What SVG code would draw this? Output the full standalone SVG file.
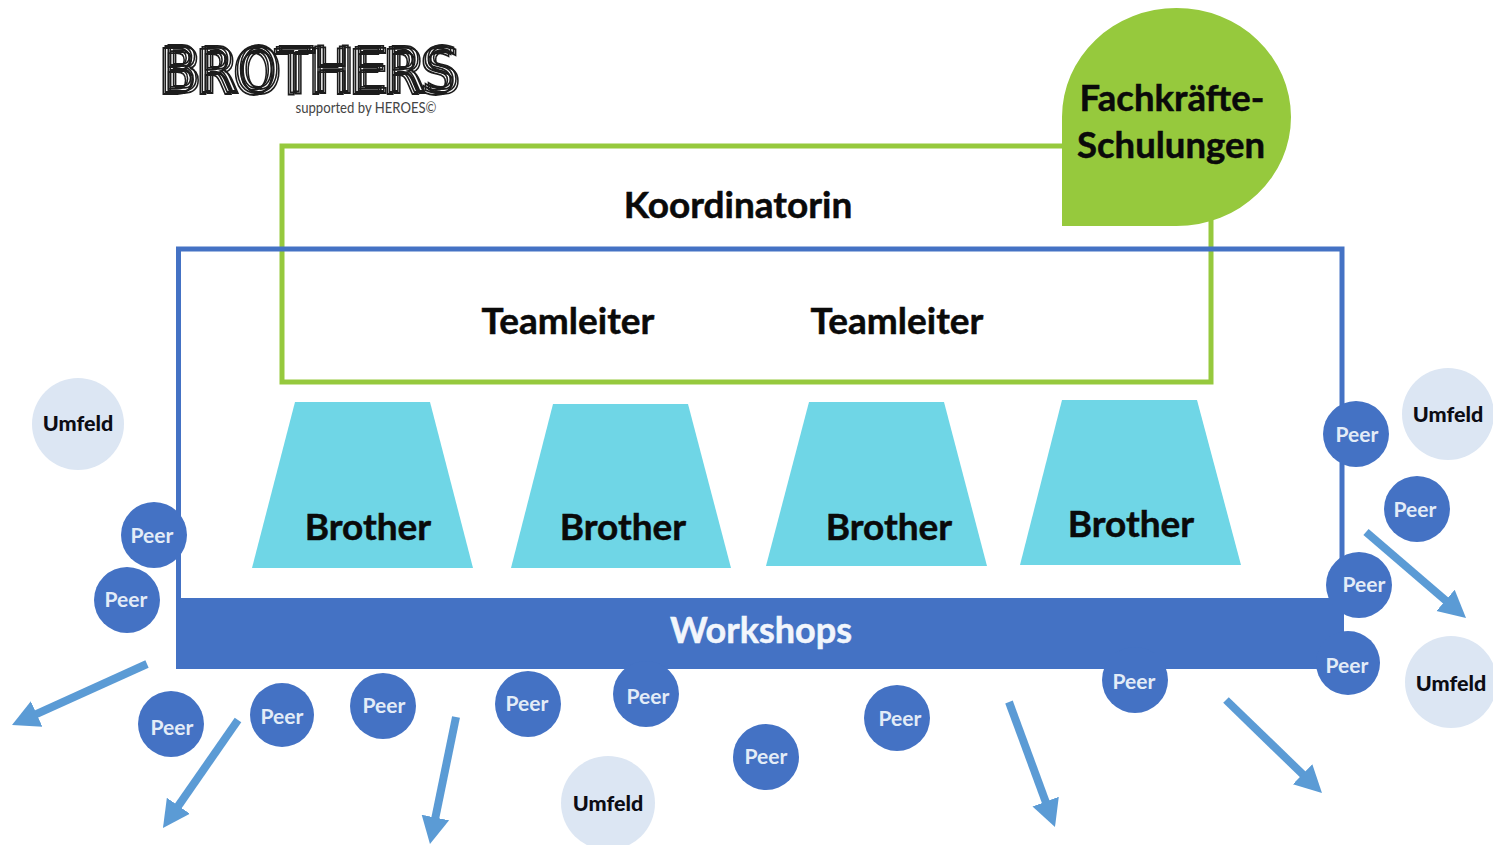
<svg xmlns="http://www.w3.org/2000/svg" width="1493" height="845" viewBox="0 0 1493 845">
<style>
text{font-family:Lato,"Open Sans","Liberation Sans",sans-serif;text-anchor:middle}
.lbl{font-weight:700;font-size:37px;fill:#0a0a0a;stroke:#0a0a0a;stroke-width:.5}
.trap{fill:#6fd6e6}
.peer{fill:#4472c4}
.ptxt{font-size:21px;font-weight:700;fill:#e3ecf7}
.umf{fill:#dce6f3}
.utxt{font-size:21.5px;font-weight:900;fill:#0c0c14}
.frame{fill:none;stroke-width:5}
.arrow{stroke:#5b9bd5;stroke-width:8;fill:none;marker-end:url(#head)}
</style>
<defs>
<marker id="head" markerUnits="userSpaceOnUse" markerWidth="30" markerHeight="34" refX="1" refY="17" orient="auto"><path d="M0 3L27 17L0 31Z" fill="#5b9bd5"/></marker>
<filter id="scratch" x="-5%" y="-20%" width="110%" height="140%">
<feOffset in="SourceGraphic" dx="3" dy="-1.500" result="a"/>
<feOffset in="SourceGraphic" dx="-2" dy="1.500" result="b"/>
<feOffset in="SourceGraphic" dx="5" dy="1" result="c"/>
<feMerge result="m"><feMergeNode in="a"/><feMergeNode in="b"/><feMergeNode in="c"/><feMergeNode in="SourceGraphic"/></feMerge>
<feGaussianBlur in="m" stdDeviation="0.5"/>
</filter>
</defs>
<rect width="1493" height="845" fill="#fff"/>

<g id="logo">
<text x="308" y="92" font-size="62" textLength="296" lengthAdjust="spacingAndGlyphs" style="font-family:'DejaVu Sans',sans-serif;font-weight:400" fill="none" stroke="#1a1a1a" stroke-width="1.800" filter="url(#scratch)">BROTHERS</text>
<text x="366" y="113" font-size="15" textLength="141" lengthAdjust="spacingAndGlyphs" fill="#444">supported by HEROES©</text>
</g>

<g id="frame-green"><rect class="frame" x="282" y="146" width="929" height="236" stroke="#96c93d"/></g>
<g id="frame-blue"><rect class="frame" x="178.500" y="249" width="1163.500" height="352" stroke="#4472c4"/></g>

<g id="schulungen">
<path d="M1062 226V117A114.500 109 0 1 1 1176.500 226Z" fill="#96c93d"/>
<text class="lbl" x="1172" y="111" style="font-size:36.500px">Fachkräfte-</text>
<text class="lbl" x="1171" y="158" style="font-size:36.500px">Schulungen</text>
</g>
<g id="koordinatorin"><text class="lbl" x="738" y="218">Koordinatorin</text></g>
<g id="teamleiter-1"><text class="lbl" x="568" y="334">Teamleiter</text></g>
<g id="teamleiter-2"><text class="lbl" x="897" y="334">Teamleiter</text></g>

<g id="brother-1"><path class="trap" d="M295 402H430L473 568H252Z"/><text class="lbl" x="368" y="540">Brother</text></g>
<g id="brother-2"><path class="trap" d="M553 404H688L731 568H511Z"/><text class="lbl" x="623" y="540">Brother</text></g>
<g id="brother-3"><path class="trap" d="M809 402H944L987 566H766Z"/><text class="lbl" x="889" y="540">Brother</text></g>
<g id="brother-4"><path class="trap" d="M1062 400H1197L1241 565H1020Z"/><text class="lbl" x="1131" y="537">Brother</text></g>

<g id="workshops"><rect x="176" y="598" width="1168" height="71" fill="#4472c4"/><text class="lbl" x="761" y="643" style="fill:#f2f6fc;stroke:#f2f6fc;font-size:36px">Workshops</text></g>

<g id="connectors">
<path class="arrow" d="M147 664L35.700 714.300"/>
<path class="arrow" d="M238 720L177.800 806.600"/>
<path class="arrow" d="M456 717L435.200 818.500"/>
<path class="arrow" d="M1009 702L1046 802.600"/>
<path class="arrow" d="M1226 700L1303.300 774.900"/>
<path class="arrow" d="M1366 532L1446.300 601"/>
</g>

<g id="umfeld-1"><circle class="umf" cx="78" cy="424" r="46"/><text class="utxt" x="78" y="431">Umfeld</text></g>
<g id="umfeld-2"><circle class="umf" cx="1448" cy="414" r="46"/><text class="utxt" x="1448" y="422">Umfeld</text></g>
<g id="umfeld-3"><circle class="umf" cx="1451" cy="682" r="46"/><text class="utxt" x="1451" y="691">Umfeld</text></g>
<g id="umfeld-4"><circle class="umf" cx="608" cy="803" r="47"/><text class="utxt" x="608" y="811">Umfeld</text></g>

<g id="peer-1"><circle class="peer" cx="154" cy="535" r="33"/><text class="ptxt" x="152" y="543">Peer</text></g>
<g id="peer-2"><circle class="peer" cx="127" cy="600" r="33"/><text class="ptxt" x="126" y="607">Peer</text></g>
<g id="peer-3"><circle class="peer" cx="171" cy="724" r="33"/><text class="ptxt" x="172" y="735">Peer</text></g>
<g id="peer-4"><circle class="peer" cx="282" cy="715" r="32"/><text class="ptxt" x="282" y="724">Peer</text></g>
<g id="peer-5"><circle class="peer" cx="383" cy="706" r="33"/><text class="ptxt" x="384" y="713">Peer</text></g>
<g id="peer-6"><circle class="peer" cx="528" cy="704" r="33"/><text class="ptxt" x="527" y="711">Peer</text></g>
<g id="peer-7"><circle class="peer" cx="646" cy="694" r="33"/><text class="ptxt" x="648" y="704">Peer</text></g>
<g id="peer-8"><circle class="peer" cx="766" cy="757" r="33"/><text class="ptxt" x="766" y="764">Peer</text></g>
<g id="peer-9"><circle class="peer" cx="897" cy="718" r="33"/><text class="ptxt" x="900" y="726">Peer</text></g>
<g id="peer-10"><circle class="peer" cx="1135" cy="680" r="33"/><text class="ptxt" x="1134" y="689">Peer</text></g>
<g id="peer-11"><circle class="peer" cx="1348" cy="663" r="32"/><text class="ptxt" x="1347" y="673">Peer</text></g>
<g id="peer-12"><circle class="peer" cx="1359" cy="585" r="33"/><text class="ptxt" x="1364" y="592">Peer</text></g>
<g id="peer-13"><circle class="peer" cx="1356" cy="434" r="33"/><text class="ptxt" x="1357" y="442">Peer</text></g>
<g id="peer-14"><circle class="peer" cx="1417" cy="509" r="33"/><text class="ptxt" x="1415" y="517">Peer</text></g>
</svg>
